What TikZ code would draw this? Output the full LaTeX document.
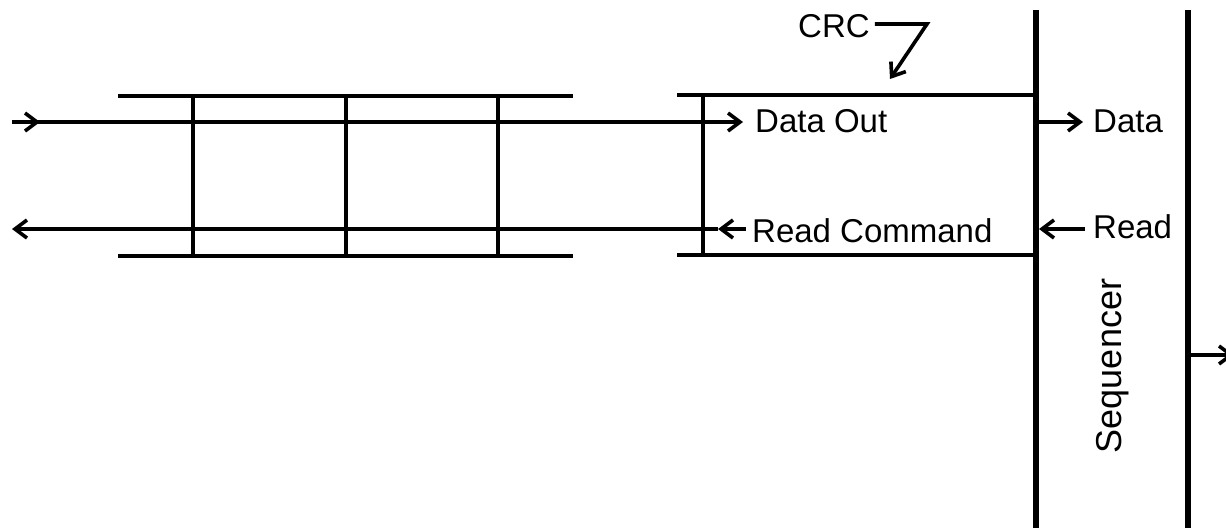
\documentclass[tikz,border=0pt]{standalone}
\usepackage{fontspec}
\setmainfont{Liberation Sans}
\usetikzlibrary{arrows.meta}
\begin{document}
\begin{tikzpicture}[x=1pt,y=-1pt,
  thin line/.style={line width=3.6pt},
  thick line/.style={line width=5.6pt},
  arr/.style={thin line,-{Straight Barb[length=12pt,width=18pt,line width=3.6pt]}},
  lbl/.style={inner sep=0pt,anchor=base west,font=\fontsize{33}{36}\selectfont}]
\useasboundingbox (0,0) rectangle (1226,528);
% coordinates
\coordinate (r1tl) at (118,96);
\coordinate (r1tr) at (573,96);
\coordinate (r1bl) at (118,256);
\coordinate (r1br) at (573,256);
\coordinate (r2tl) at (677,95);
\coordinate (r2bl) at (677,255);
\coordinate (sqT) at (1036,10);
\coordinate (sqB) at (1036,528);
\coordinate (sq2T) at (1188,10);
\coordinate (sq2B) at (1188,528);
% left register
\draw[thin line] (r1tl) -- (r1tr);
\draw[thin line] (r1bl) -- (r1br);
\foreach \x in {193,346,498} \draw[thin line] (\x,96) -- (\x,256);
% right register
\draw[thin line] (r2tl) -- (sqT |- r2tl);
\draw[thin line] (r2bl) -- (sqT |- r2bl);
\draw[thin line] (703,95) -- (703,255);
% sequencer lines
\draw[thick line] (sqT) -- (sqB);
\draw[thick line] (sq2T) -- (sq2B);
% labels
\node[lbl] (dataout) at (755,132) {Data Out};
\node[lbl] (readcmd) at (752,242) {Read Command};
\node[lbl] (data) at (1093,132) {Data};
\node[lbl] (read) at (1093,238) {Read};
\node[lbl] (crc) at (798,37) {CRC};
\node[inner sep=0pt,rotate=90,font=\fontsize{36}{40}\selectfont] (seq) at (1113,366) {Sequencer};
% data line
\coordinate (din) at (12,122);
\coordinate (dmid) at (40,122);
\draw[thin line] (din) -- (dmid);
\draw[arr] (din) -- (dmid);
\draw[arr] (dmid) -- ([xshift=-12pt]dataout.west |- din);
% read line
\coordinate (rin) at (12,229);
\coordinate (rmid) at (718,229);
\draw[arr] ([xshift=-6pt]readcmd.west |- rin) -- (rmid);
\draw[arr] (rmid) -- (rin);
% sequencer arrows
\draw[arr] (sqT |- dmid) -- ([xshift=-10pt]data.west |- dmid);
\draw[arr] ([xshift=-8pt]read.west |- rin) -- ([xshift=3pt]sqT |- rin);
\coordinate (outR) at (1234,355);
\draw[arr] (sq2T |- outR) -- (outR);
% CRC pointer
\coordinate (crc1) at (927,24);
\coordinate (crcTip) at (890,79);
\draw[arr,line join=miter] ([xshift=5pt]crc.east |- crc1) -- (crc1) -- (crcTip);
\end{tikzpicture}
\end{document}
